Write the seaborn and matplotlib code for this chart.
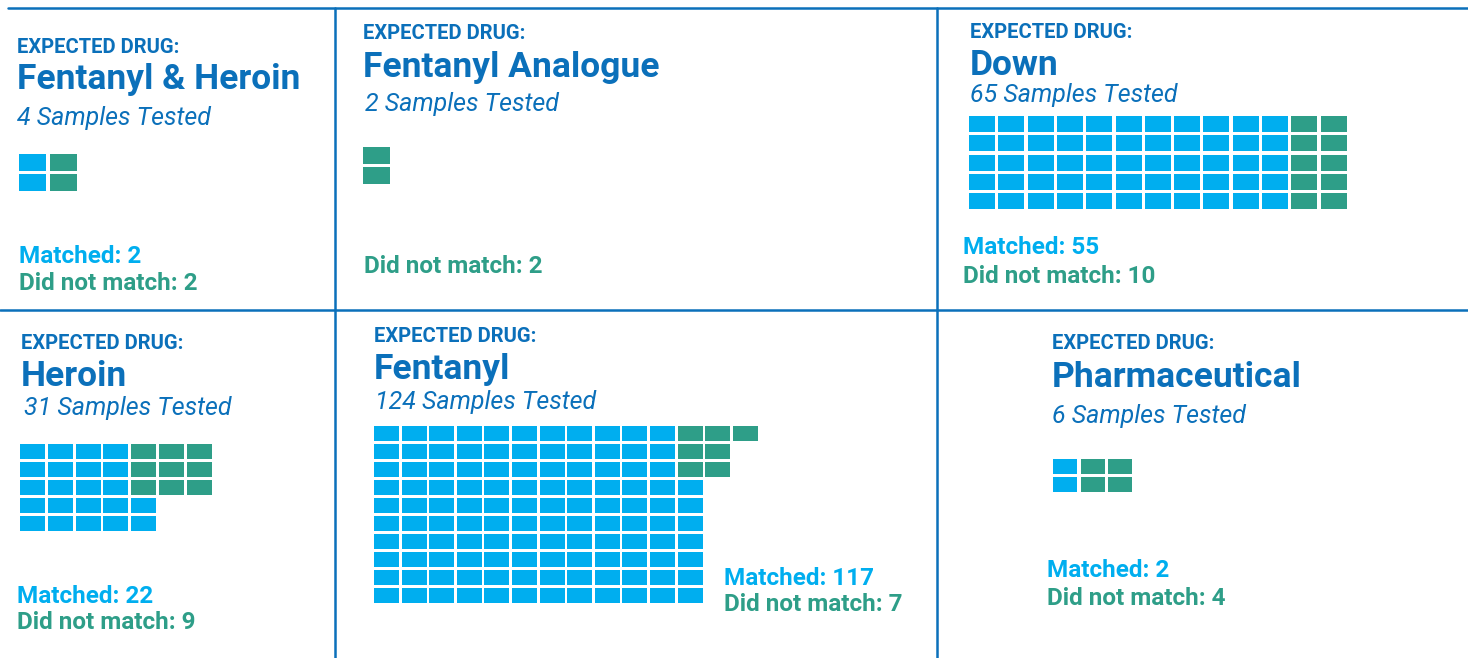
import numpy as np
import pandas as pd
import seaborn as sns
import matplotlib.pyplot as plt
from matplotlib.path import Path

# data
drugs = ['Fentanyl & Heroin', 'Fentanyl Analogue', 'Down', 'Heroin', 'Fentanyl', 'Pharmaceutical']
matched = [2, 0, 55, 22, 117, 2]
not_matched = [2, 2, 10, 9, 7, 4]
grid_rows = [2, 2, 5, 5, 10, 2]

BLUE = '#00AEEF'
GREEN = '#2E9E88'
INK = '#0B70BA'

# layout in pixels: header x, header baseline, title baseline, subtitle x, subtitle baseline,
# legend x, matched baseline, did-not-match baseline, grid origin, pitch, cell size
layout = [
  dict(hx=17, hb=53, tb=89, sx=17, sb=125, mx=19, mb=263, db=290, gx=19, gy=154, px=31, py=20, w=27, h=17),
  dict(hx=363, hb=39, tb=77, sx=365, sb=111, mx=364, mb=None, db=273, gx=363, gy=147, px=31, py=19.5, w=27, h=17),
  dict(hx=970, hb=38, tb=75, sx=970, sb=102, mx=963, mb=254, db=283, gx=969, gy=116, px=29.3, py=19.25, w=26, h=16),
  dict(hx=21, hb=349, tb=386, sx=24, sb=415, mx=17, mb=603, db=629, gx=20, gy=444, px=27.8, py=18, w=25, h=15),
  dict(hx=374, hb=342, tb=379, sx=375, sb=409, mx=724, mb=585, db=611, gx=374, gy=426, px=27.6, py=18, w=25, h=15),
  dict(hx=1052, hb=349, tb=387, sx=1052, sb=423, mx=1047, mb=577, db=605, gx=1053, gy=459, px=27.5, py=17.7, w=24, h=15),
]


def waffle_cells(n_match, n_miss, rows):
  # matched fill columns, a partial column sits at the bottom;
  # misses fill the free rows on top, column by column
  cells = []
  full, part = divmod(n_match, rows)
  for i in range(n_match):
    col, r = divmod(i, rows)
    if col == full:
      r = rows - part + r
    cells.append((col, r, 'Matched'))
  free = rows - part if part else rows
  for j in range(n_miss):
    col, r = divmod(j, free)
    cells.append((full + col, r, 'Did not match'))
  return pd.DataFrame(cells, columns=['col', 'row', 'status'])


def main():
  sns.set_theme(style='white')
  plt.rcParams['font.family'] = ['Roboto', 'DejaVu Sans']

  fig = plt.figure(figsize=(14.68, 6.58), dpi=100)
  ax = fig.add_axes([0, 0, 1, 1])
  ax.set_xlim(0, 1468)
  ax.set_ylim(658, 0)
  ax.axis('off')

  # panel borders
  lw = 1.8
  ax.plot([8, 1468], [8, 8], color=INK, lw=lw)
  ax.plot([0, 1468], [310, 310], color=INK, lw=lw)
  ax.plot([335, 335], [8, 658], color=INK, lw=lw)
  ax.plot([937, 937], [8, 658], color=INK, lw=lw)

  for i, name in enumerate(drugs):
    L = layout[i]
    df = waffle_cells(matched[i], not_matched[i], grid_rows[i])
    df['x'] = L['gx'] + df['col'] * L['px'] + L['w'] / 2
    df['y'] = L['gy'] + df['row'] * L['py'] + L['h'] / 2
    w, h = L['w'], L['h']
    rect = Path([(-w / 2, -h / 2), (w / 2, -h / 2), (w / 2, h / 2), (-w / 2, h / 2), (-w / 2, -h / 2)], closed=True)
    sns.scatterplot(data=df, x='x', y='y', hue='status',
                    palette={'Matched': BLUE, 'Did not match': GREEN},
                    marker=rect, s=(w * 0.72) ** 2, linewidth=0, legend=False, ax=ax)

    total = matched[i] + not_matched[i]
    ax.text(L['hx'], L['hb'], 'EXPECTED DRUG:', color=INK, fontsize=14.5, fontweight='bold', va='baseline')
    ax.text(L['hx'], L['tb'], name, color=INK, fontsize=25.5, fontweight='bold', va='baseline')
    ax.text(L['sx'], L['sb'], f'{total} Samples Tested', color=INK, fontsize=18, style='italic', va='baseline')
    if matched[i] > 0:
      ax.text(L['mx'], L['mb'], f'Matched: {matched[i]}', color=BLUE, fontsize=17.5, fontweight='bold', va='baseline')
    ax.text(L['mx'], L['db'], f'Did not match: {not_matched[i]}', color=GREEN, fontsize=17.5, fontweight='bold', va='baseline')

  plt.savefig('out.png', dpi=100)


if __name__ == '__main__':
  main()
